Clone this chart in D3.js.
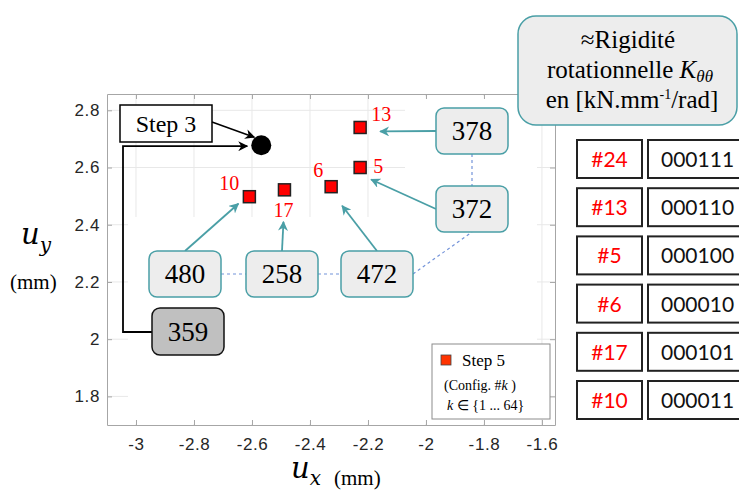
<!DOCTYPE html>
<html>
<head>
<meta charset="utf-8">
<script src="https://cdn.jsdelivr.net/npm/d3@7"></script>
<style>
  body { margin: 0; background: #fff; }
  svg { display: block; }
</style>
</head>
<body>
<div id="chart"></div>
<script>
// Step 5 configurations (red squares)
let configs = [10, 17, 6, 13, 5];
let uxStep5 = [-2.609, -2.488, -2.327, -2.227, -2.227];
let uyStep5 = [2.498, 2.522, 2.533, 2.740, 2.600];
let stiffStep5 = [480, 258, 472, 378, 372];

// Step 3 point (black circle)
let uxStep3 = [-2.568];
let uyStep3 = [2.678];
let stiffStep3 = [359];

// table on the right
let tableIds = ["#24", "#13", "#5", "#6", "#17", "#10"];
let tableCodes = ["000111", "000110", "000100", "000010", "000101", "000011"];

let xTicks = [-3, -2.8, -2.6, -2.4, -2.2, -2, -1.8, -1.6];
let yTicks = [1.8, 2, 2.2, 2.4, 2.6, 2.8];

let W = 739, H = 496;
let plot = { left: 107, right: 555, top: 94, bottom: 425 };

let teal = "#4a9fa6";
let serif = "'Liberation Serif', 'Times New Roman', serif";
let sans = "'Liberation Sans', Arial, sans-serif";

let svg = d3.select("#chart").append("svg")
	.attr("width", W)
	.attr("height", H);

let defs = svg.append("defs");
function marker(id, colour) {
	defs.append("marker")
		.attr("id", id)
		.attr("viewBox", "0 0 10 10")
		.attr("refX", 9).attr("refY", 5)
		.attr("markerWidth", 10).attr("markerHeight", 10)
		.attr("markerUnits", "userSpaceOnUse")
		.attr("orient", "auto")
		.append("path")
		.attr("d", "M0,0 L10,5 L0,10 L3,5 z")
		.attr("fill", colour);
}
marker("arrTeal", teal);
marker("arrBlack", "#000");

let x = d3.scaleLinear().domain([-3.1, -1.555]).range([plot.left, plot.right]);
let y = d3.scaleLinear().domain([1.7, 2.857]).range([plot.bottom, plot.top]);

// grid
let grid = svg.append("g").attr("stroke", "#e8e8e8").attr("stroke-width", 1);
grid.selectAll(".gx").data(xTicks).enter().append("line")
	.attr("x1", d => x(d)).attr("x2", d => x(d))
	.attr("y1", plot.top).attr("y2", plot.bottom);
grid.selectAll(".gy").data(yTicks).enter().append("line")
	.attr("x1", plot.left).attr("x2", plot.right)
	.attr("y1", d => y(d)).attr("y2", d => y(d));

// white areas pasted over the grid in the original figure
svg.append("rect").attr("x", 128).attr("y", 217).attr("width", 277).attr("height", 207).attr("fill", "#fff");
svg.append("rect").attr("x", 405).attr("y", 96).attr("width", 132).attr("height", 328).attr("fill", "#fff");

// axes (matlab-like box with inner ticks)
let axisColour = "#a6a6a6";
let tickFont = "17px " + sans;
svg.append("g")
	.attr("transform", "translate(0," + plot.bottom + ")")
	.call(d3.axisBottom(x).tickValues(xTicks).tickSizeInner(-5).tickSizeOuter(0).tickPadding(13).tickFormat(d => String(d)))
	.call(g => g.select(".domain").attr("stroke", axisColour))
	.call(g => g.selectAll(".tick line").attr("stroke", axisColour))
	.call(g => g.selectAll(".tick text").attr("fill", "#262626").style("font", tickFont).style("letter-spacing", "0.6px"));

svg.append("g")
	.attr("transform", "translate(" + plot.left + ",0)")
	.call(d3.axisLeft(y).tickValues(yTicks).tickSizeInner(-5).tickSizeOuter(0).tickPadding(7).tickFormat(d => String(d)))
	.call(g => g.select(".domain").attr("stroke", axisColour))
	.call(g => g.selectAll(".tick line").attr("stroke", axisColour))
	.call(g => g.selectAll(".tick text").attr("fill", "#262626").style("font", tickFont).style("letter-spacing", "0.6px"));

svg.append("g")
	.attr("transform", "translate(0," + plot.top + ")")
	.call(d3.axisTop(x).tickValues(xTicks).tickSizeInner(-5).tickSizeOuter(0).tickFormat(""))
	.call(g => g.select(".domain").attr("stroke", axisColour))
	.call(g => g.selectAll(".tick line").attr("stroke", axisColour));

svg.append("g")
	.attr("transform", "translate(" + plot.right + ",0)")
	.call(d3.axisRight(y).tickValues(yTicks).tickSizeInner(-5).tickSizeOuter(0).tickFormat(""))
	.call(g => g.select(".domain").attr("stroke", axisColour))
	.call(g => g.selectAll(".tick line").attr("stroke", axisColour));

// axis titles
let yt = svg.append("text").attr("x", 21).attr("y", 244)
	.style("font-family", "'DejaVu Serif', serif").style("font-style", "italic").style("font-size", "29px");
yt.append("tspan").text("u");
yt.append("tspan").attr("dy", 8).style("font-size", "20px").text("y");
svg.append("text").attr("x", 10).attr("y", 289).style("font", "21px " + serif).text("(mm)");

let xt = svg.append("text").attr("x", 291).attr("y", 478)
	.style("font-family", "'DejaVu Serif', serif").style("font-style", "italic").style("font-size", "29px");
xt.append("tspan").text("u");
xt.append("tspan").attr("dy", 7).style("font-size", "20px").text("x");
svg.append("text").attr("x", 334).attr("y", 485).style("font", "21px " + serif).text("(mm)");

// annotation boxes (layout, pixels) : one per config + step 3
let boxes = [
	{ x: 149, y: 251, target: [-11, 7], from: "top" },   // 480 -> #10
	{ x: 246, y: 251, target: [-1, 32], from: "top" },   // 258 -> #17
	{ x: 341, y: 251, target: [11, 19], from: "top" },   // 472 -> #6
	{ x: 436, y: 108, target: [20, 4], from: "left" },   // 378 -> #13
	{ x: 436, y: 186, target: [11, 12], from: "left" }   // 372 -> #5
];
let bw = 72, bh = 46;

let pts = configs.map((c, i) => ({
	id: c, ux: uxStep5[i], uy: uyStep5[i], k: stiffStep5[i], box: boxes[i]
}));

// dashed links between boxes
let dash = svg.append("g").attr("stroke", "#7393d9").attr("stroke-width", 1.2)
	.attr("stroke-dasharray", "3,3").attr("fill", "none");
dash.append("line").attr("x1", boxes[0].x + bw).attr("y1", boxes[0].y + bh / 2).attr("x2", boxes[1].x).attr("y2", boxes[1].y + bh / 2);
dash.append("line").attr("x1", boxes[1].x + bw).attr("y1", boxes[1].y + bh / 2).attr("x2", boxes[2].x).attr("y2", boxes[2].y + bh / 2);
dash.append("line").attr("x1", boxes[2].x + bw).attr("y1", boxes[2].y + bh / 2).attr("x2", boxes[4].x + bw / 2).attr("y2", boxes[4].y + bh);
dash.append("line").attr("x1", boxes[3].x + bw / 2).attr("y1", boxes[3].y + bh).attr("x2", boxes[4].x + bw / 2).attr("y2", boxes[4].y);

// teal arrows from boxes to points
svg.selectAll(".tarrow").data(pts).enter().append("line")
	.attr("x1", d => d.box.from == "top" ? d.box.x + bw / 2 : d.box.x)
	.attr("y1", d => d.box.from == "top" ? d.box.y : d.box.y + bh / 2)
	.attr("x2", d => x(d.ux) + d.box.target[0])
	.attr("y2", d => y(d.uy) + d.box.target[1])
	.attr("stroke", teal).attr("stroke-width", 1.8)
	.attr("marker-end", "url(#arrTeal)");

let bg = svg.selectAll(".kbox").data(pts).enter().append("g");
bg.append("rect")
	.attr("x", d => d.box.x).attr("y", d => d.box.y)
	.attr("width", bw).attr("height", bh).attr("rx", 8)
	.attr("fill", "#ededed").attr("stroke", teal).attr("stroke-width", 1.5);
bg.append("text")
	.attr("x", d => d.box.x + bw / 2).attr("y", d => d.box.y + bh / 2 + 9)
	.attr("text-anchor", "middle").style("font", "27px " + serif)
	.text(d => d.k);

// step 3 annotation
let s3 = { x: x(uxStep3[0]), y: y(uyStep3[0]) };
svg.append("rect").attr("x", 120).attr("y", 105).attr("width", 92).attr("height", 37)
	.attr("fill", "#fff").attr("stroke", "#000").attr("stroke-width", 1.5);
svg.append("text").attr("x", 166).attr("y", 132).attr("text-anchor", "middle")
	.style("font", "24px " + serif).text("Step 3");
svg.append("line").attr("x1", 212).attr("y1", 122).attr("x2", s3.x - 7).attr("y2", s3.y - 8)
	.attr("stroke", "#000").attr("stroke-width", 1.5).attr("marker-end", "url(#arrBlack)");
svg.append("path")
	.attr("d", "M152,332 H123 V" + (s3.y + 1) + " H" + (s3.x - 14))
	.attr("fill", "none").attr("stroke", "#000").attr("stroke-width", 1.8)
	.attr("marker-end", "url(#arrBlack)");
svg.append("rect").attr("x", 152).attr("y", 308).attr("width", bw).attr("height", 47).attr("rx", 8)
	.attr("fill", "#c0c0c0").attr("stroke", "#111").attr("stroke-width", 1.5);
svg.append("text").attr("x", 152 + bw / 2).attr("y", 341).attr("text-anchor", "middle")
	.style("font", "27px " + serif).text(stiffStep3[0]);

svg.selectAll(".s3").data(uxStep3).enter().append("circle")
	.attr("cx", (d, i) => x(d)).attr("cy", (d, i) => y(uyStep3[i]))
	.attr("r", 10).attr("fill", "#000");

// step 5 squares + labels
let lab = { 10: [-20, -7], 17: [-1, 27], 6: [-13, -10], 13: [21, -6], 5: [18, 5] };
svg.selectAll(".sq").data(pts).enter().append("rect")
	.attr("x", d => x(d.ux) - 6).attr("y", d => y(d.uy) - 6)
	.attr("width", 12).attr("height", 12)
	.attr("fill", "#ff0000").attr("stroke", "#222").attr("stroke-width", 1.5);
svg.selectAll(".sqlab").data(pts).enter().append("text")
	.attr("x", d => x(d.ux) + lab[d.id][0]).attr("y", d => y(d.uy) + lab[d.id][1])
	.attr("text-anchor", "middle").attr("fill", "#ff0000")
	.style("font", "20px " + serif).text(d => d.id);

// legend
let lg = svg.append("g");
lg.append("rect").attr("x", 432).attr("y", 344).attr("width", 118).attr("height", 75)
	.attr("fill", "#fff").attr("stroke", "#8c8c8c").attr("stroke-width", 1);
lg.append("rect").attr("x", 441).attr("y", 355).attr("width", 10).attr("height", 10)
	.attr("fill", "#ff3300").attr("stroke", "#444").attr("stroke-width", 0.8);
lg.append("text").attr("x", 462).attr("y", 366).style("font", "17px " + serif).text("Step 5");
let l2 = lg.append("text").attr("x", 444).attr("y", 390).style("font", "14px " + serif);
l2.append("tspan").text("(Config. #");
l2.append("tspan").style("font-style", "italic").text("k");
l2.append("tspan").text(" )");
let l3 = lg.append("text").attr("x", 447).attr("y", 410).style("font", "14px " + serif);
l3.append("tspan").style("font-style", "italic").text("k");
l3.append("tspan").text(" \u2208  {1 ... 64}");

// stiffness title box
svg.append("rect").attr("x", 518).attr("y", 16).attr("width", 219).attr("height", 109).attr("rx", 18)
	.attr("fill", "#ededed").attr("stroke", teal).attr("stroke-width", 1.5);
let tf = "25px " + serif;
svg.append("text").attr("x", 628).attr("y", 48).attr("text-anchor", "middle").style("font", tf).text("\u2248Rigidit\u00e9");
let t2 = svg.append("text").attr("x", 630).attr("y", 78).attr("text-anchor", "middle").style("font", tf);
t2.append("tspan").text("rotationnelle ");
t2.append("tspan").style("font-style", "italic").text("K");
t2.append("tspan").attr("dy", 4).style("font-style", "italic").style("font-size", "17px").text("\u03b8\u03b8");
let t3 = svg.append("text").attr("x", 632).attr("y", 108).attr("text-anchor", "middle").style("font", tf);
t3.append("tspan").text("en [kN.mm");
t3.append("tspan").attr("dy", -9).style("font-size", "14px").text("-1");
t3.append("tspan").attr("dy", 9).text("/rad]");

// table
let rowY = d3.scaleLinear().domain([0, tableIds.length - 1]).range([140, 381]);
let rows = svg.selectAll(".row").data(tableIds).enter().append("g")
	.attr("transform", (d, i) => "translate(0," + rowY(i) + ")");
rows.append("rect").attr("x", 577).attr("y", 0).attr("width", 65).attr("height", 38)
	.attr("fill", "#fff").attr("stroke", "#222").attr("stroke-width", 2);
rows.append("rect").attr("x", 648).attr("y", 0).attr("width", 100).attr("height", 38)
	.attr("fill", "#fff").attr("stroke", "#222").attr("stroke-width", 2);
rows.append("text").attr("x", 609.5).attr("y", 27).attr("text-anchor", "middle")
	.attr("fill", "#ff0000").style("font", "21px Lato, 'Open Sans', sans-serif").text(d => d);
rows.append("text").attr("x", 661).attr("y", 27)
	.attr("fill", "#111").style("font", "21px Lato, 'Open Sans', sans-serif").text((d, i) => tableCodes[i]);
</script>
</body>
</html>
